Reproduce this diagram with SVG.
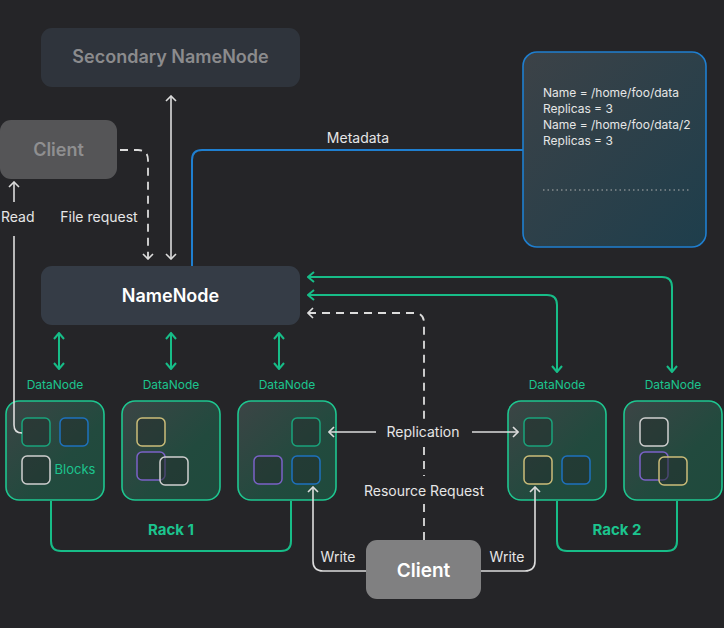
<svg xmlns="http://www.w3.org/2000/svg" width="724" height="628" viewBox="0 0 724 628">
<style>
text{font-family:Inter,"Noto Sans","Liberation Sans",sans-serif}
.lbl{fill:#e6e6e6;font-size:14px;text-anchor:middle}
.dn{fill:#1cc48e;font-size:12px;text-anchor:middle}
.rack{fill:#1cc48e;font-size:15px;font-weight:700;text-anchor:middle}
.meta{fill:#e6e6e6;font-size:12px}
.w{fill:none;stroke:#dcdcdc;stroke-width:1.6}
.wd{fill:none;stroke:#dcdcdc;stroke-width:1.8;stroke-dasharray:8 6}
.g{fill:none;stroke:#17bd88;stroke-width:2}
.dnbox{fill:url(#gdn);stroke:#1ec690;stroke-width:1.6}
.blk{fill:#25302d;fill-opacity:0.55;stroke-width:1.5}
.bg{stroke:#1aa47c}.bb{stroke:#1e72bf}.bw{stroke:#cfcfcf}.by{stroke:#cbbd79}.bp{stroke:#7b62c8}
</style>
<defs>
<linearGradient id="gdn" x1="0" y1="0" x2="1" y2="1">
<stop offset="0" stop-color="#3c4445"/>
<stop offset="0.6" stop-color="#224a3e"/>
<stop offset="1" stop-color="#1f4a3c"/>
</linearGradient>
<linearGradient id="gmeta" x1="0" y1="0" x2="1" y2="1">
<stop offset="0" stop-color="#3c4247"/>
<stop offset="1" stop-color="#1e3e4c"/>
</linearGradient>
<marker id="aw" viewBox="0 0 12 12" refX="11" refY="6" markerWidth="12" markerHeight="12" markerUnits="userSpaceOnUse" orient="auto-start-reverse">
<path d="M6,1 L11,6 L6,11" fill="none" stroke="#dcdcdc" stroke-width="1.6"/>
</marker>
<marker id="ag" viewBox="0 0 12 12" refX="11" refY="6" markerWidth="12" markerHeight="12" markerUnits="userSpaceOnUse" orient="auto-start-reverse">
<path d="M5,1 L11,6 L5,11" fill="none" stroke="#17bd88" stroke-width="2"/>
</marker>
</defs>
<rect width="724" height="628" fill="#252528"/>

<g id="secondary-namenode">
<rect x="41" y="28" width="259" height="59" rx="11" fill="#2f343c"/>
<text x="170.5" y="63" fill="#8b8b8d" font-size="18" font-weight="600" text-anchor="middle">Secondary NameNode</text>
</g>
<g id="client-top">
<rect x="0" y="120" width="117" height="59" rx="11" fill="#555557"/>
<text x="58.5" y="156" fill="#8f8f90" font-size="18" font-weight="600" text-anchor="middle">Client</text>
</g>
<g id="namenode">
<rect x="41" y="266" width="259" height="59" rx="11" fill="#353c46"/>
<text x="170.5" y="302" fill="#ffffff" font-size="18" font-weight="600" text-anchor="middle">NameNode</text>
</g>
<g id="metadata-box">
<rect x="523" y="52" width="183" height="195" rx="14" fill="url(#gmeta)" stroke="#1f7fd0" stroke-width="1.6"/>
<text class="meta" x="543" y="97">Name = /home/foo/data</text>
<text class="meta" x="543" y="113">Replicas = 3</text>
<text class="meta" x="543" y="129">Name = /home/foo/data/2</text>
<text class="meta" x="543" y="145">Replicas = 3</text>
<path d="M543,190 H689" stroke="#b0b0b0" stroke-width="1.2" stroke-dasharray="1.5 3"/>
</g>

<g id="datanode-1">
<text class="dn" x="55" y="389">DataNode</text>
<rect class="dnbox" x="6" y="401" width="98" height="99" rx="13"/>
<rect class="blk bg" x="22" y="418" width="28" height="28" rx="5"/>
<rect class="blk bb" x="60" y="418" width="28" height="28" rx="5"/>
<rect class="blk bw" x="22" y="456" width="28" height="28" rx="5"/>
<text x="75" y="474" fill="#1cc48e" font-size="13" text-anchor="middle">Blocks</text>
</g>
<g id="datanode-2">
<text class="dn" x="171" y="389">DataNode</text>
<rect class="dnbox" x="122" y="401" width="98" height="99" rx="13"/>
<rect class="blk by" x="137" y="418" width="28" height="28" rx="5"/>
<rect class="blk bp" x="137" y="452" width="28" height="28" rx="5"/>
<rect class="blk bw" x="160" y="457" width="28" height="28" rx="5"/>
</g>
<g id="datanode-3">
<text class="dn" x="287" y="389">DataNode</text>
<rect class="dnbox" x="238" y="401" width="98" height="99" rx="13"/>
<rect class="blk bg" x="292" y="418" width="28" height="28" rx="5"/>
<rect class="blk bp" x="254" y="456" width="28" height="28" rx="5"/>
<rect class="blk bb" x="292" y="456" width="28" height="28" rx="5"/>
</g>
<g id="datanode-4">
<text class="dn" x="557" y="389">DataNode</text>
<rect class="dnbox" x="508" y="401" width="98" height="99" rx="13"/>
<rect class="blk bg" x="524" y="418" width="28" height="28" rx="5"/>
<rect class="blk by" x="524" y="456" width="28" height="28" rx="5"/>
<rect class="blk bb" x="562" y="456" width="28" height="28" rx="5"/>
</g>
<g id="datanode-5">
<text class="dn" x="673" y="389">DataNode</text>
<rect class="dnbox" x="624" y="401" width="98" height="99" rx="13"/>
<rect class="blk bw" x="640" y="418" width="28" height="28" rx="5"/>
<rect class="blk bp" x="640" y="452" width="28" height="28" rx="5"/>
<rect class="blk by" x="659" y="457" width="28" height="28" rx="5"/>
</g>
<g id="client-bottom">
<rect x="366" y="540" width="115" height="59" rx="11" fill="#808081"/>
<text x="423.5" y="577" fill="#ffffff" font-size="19" font-weight="600" text-anchor="middle">Client</text>
</g>

<g id="connectors">
<path class="w" d="M171,96 V259" marker-start="url(#aw)" marker-end="url(#aw)"/>
<path class="wd" d="M120,150 H138 Q148,150 148,160 V259" marker-end="url(#aw)"/>
<path d="M192,266 V160 Q192,150 202,150 H523" fill="none" stroke="#1f7fd0" stroke-width="2"/>
<path class="w" d="M14,202 V182" marker-end="url(#aw)"/>
<path class="w" d="M14,236 V425 Q14,433 22,433"/>
<path class="g" d="M308,277 H662 Q672,277 672,287 V372" marker-start="url(#ag)" marker-end="url(#ag)"/>
<path class="g" d="M308,295 H547 Q557,295 557,305 V372" marker-start="url(#ag)" marker-end="url(#ag)"/>
<path class="wd" d="M308,313 H414 Q424,313 424,323 V420" marker-start="url(#aw)"/>
<path class="wd" d="M424,447 V476"/>
<path class="wd" d="M424,504 V540"/>
<path class="g" d="M59,333 V369" marker-start="url(#ag)" marker-end="url(#ag)"/>
<path class="g" d="M171,333 V369" marker-start="url(#ag)" marker-end="url(#ag)"/>
<path class="g" d="M279,333 V369" marker-start="url(#ag)" marker-end="url(#ag)"/>
<path class="w" d="M376,432 H329" marker-end="url(#aw)"/>
<path class="w" d="M472,432 H518" marker-end="url(#aw)"/>
<path class="w" d="M366,571 H323 Q313,571 313,561 V487" marker-end="url(#aw)"/>
<path class="w" d="M481,571 H525 Q535,571 535,561 V487" marker-end="url(#aw)"/>
<path class="g" d="M51,501 V541 Q51,551 61,551 H281 Q291,551 291,541 V501"/>
<path class="g" d="M557,501 V541 Q557,551 567,551 H667 Q677,551 677,541 V501"/>
</g>

<g id="labels">
<text class="lbl" x="1" y="222" style="text-anchor:start">Read</text>
<text class="lbl" x="99" y="222">File request</text>
<text class="lbl" x="358" y="143">Metadata</text>
<text class="lbl" x="423" y="437">Replication</text>
<text class="lbl" x="424" y="496">Resource Request</text>
<text class="lbl" x="338" y="562">Write</text>
<text class="lbl" x="507" y="562">Write</text>
<text class="rack" x="171" y="535">Rack 1</text>
<text class="rack" x="617" y="535">Rack 2</text>
</g>
</svg>
